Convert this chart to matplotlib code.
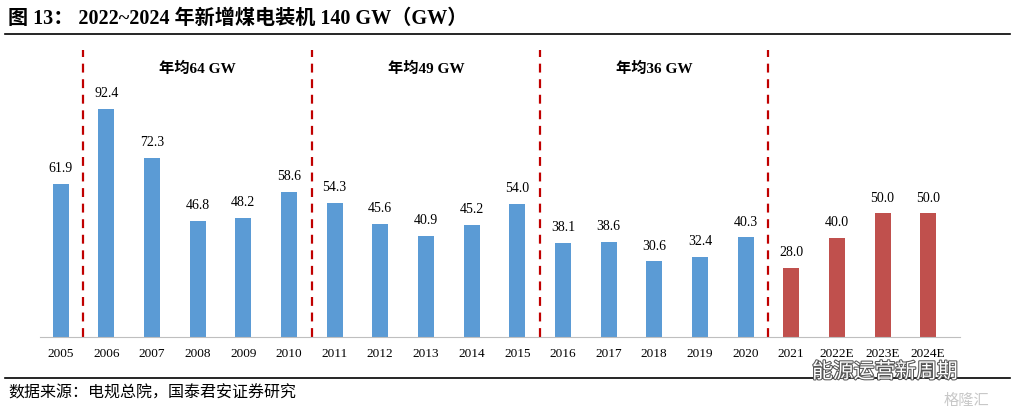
import matplotlib
matplotlib.use("Agg")
import matplotlib.pyplot as plt
import matplotlib.patheffects as pe

years = ["2005", "2006", "2007", "2008", "2009", "2010", "2011", "2012", "2013", "2014",
         "2015", "2016", "2017", "2018", "2019", "2020", "2021", "2022E", "2023E", "2024E"]
added_gw = [61.9, 92.4, 72.3, 46.8, 48.2, 58.6, 54.3, 45.6, 40.9, 45.2,
            54.0, 38.1, 38.6, 30.6, 32.4, 40.3, 28.0, 40.0, 50.0, 50.0]
n_actual = 16
period_labels = ["年均64 GW", "年均49 GW", "年均36 GW"]
divider_after = [0, 5, 10, 15]

BLUE = "#5B9BD5"
RED = "#C0504D"
FONT = ["Liberation Serif", "Noto Sans CJK SC"]

plt.rcParams["font.family"] = FONT

fig = plt.figure(figsize=(10.15, 4.11), dpi=100)
ax = fig.add_axes([0.039, 0.18, 0.907, 0.7226])

x = list(range(len(years)))
colors = [BLUE if i < n_actual else RED for i in x]
ax.bar(x, added_gw, width=0.35, color=colors)
for xi, v in zip(x, added_gw):
    ax.text(xi, v + 3.6, f"{v:.1f}", ha="center", va="bottom", fontsize=10)

for d in divider_after:
    ax.vlines(d + 0.5, 0, 116, colors="#C00000", linestyles=(0, (4, 3)), linewidth=1.6)

for i, lab in enumerate(period_labels):
    mid = (divider_after[i] + divider_after[i + 1]) / 2 + 0.5
    ax.text(mid, 108.5, lab, ha="center", va="center", fontsize=11, fontweight="bold")

ax.set_xlim(-0.46, 19.7)
ax.set_ylim(0, 120.2)
ax.set_xticks(x)
ax.set_xticklabels(years, fontsize=9.5)
ax.tick_params(axis="x", length=0, pad=8)
ax.set_yticks([])
for s in ["top", "right", "left"]:
    ax.spines[s].set_visible(False)
ax.spines["bottom"].set_color("#BFBFBF")

fig.text(0.008, 0.955, "图 13： 2022~2024 年新增煤电装机 140 GW（GW）", fontsize=14.5,
         fontweight="bold", va="center")
fig.add_artist(plt.Line2D([0.005, 0.995], [0.918, 0.918], color="black", linewidth=1.2))
fig.add_artist(plt.Line2D([0.005, 0.995], [0.08, 0.08], color="black", linewidth=1.2))
fig.text(0.008, 0.043, "数据来源：电规总院，国泰君安证券研究", fontsize=11.5, va="center")

# watermark
fig.text(0.80, 0.093, "能源运营新周期", fontsize=15, color="white", va="center",
         path_effects=[pe.withStroke(linewidth=1.5, foreground="#555555")])
fig.text(0.93, 0.025, "格隆汇", fontsize=11, color="#C8C8C8", va="center")

fig.savefig("out.png", dpi=100)
